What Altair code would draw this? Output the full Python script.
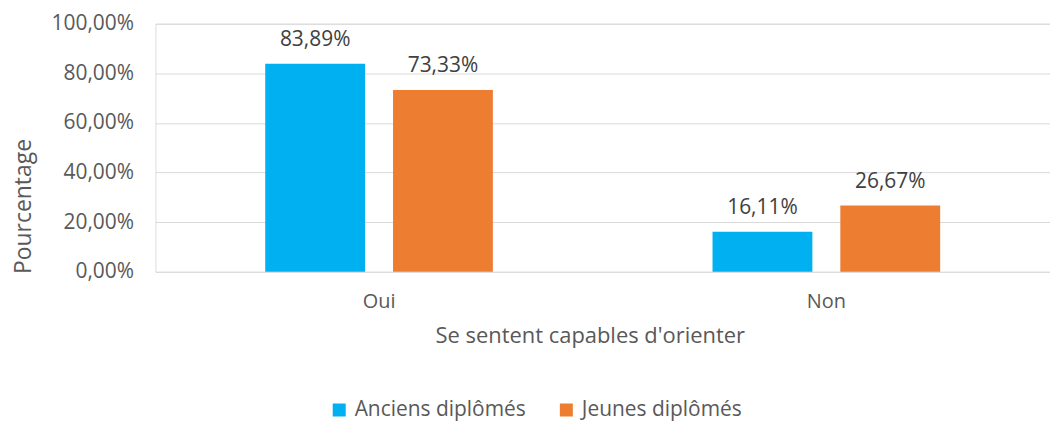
import altair as alt
import pandas as pd

categories = ["Oui", "Oui", "Non", "Non"]
series = ["Anciens diplômés", "Jeunes diplômés", "Anciens diplômés", "Jeunes diplômés"]
values = [0.8389, 0.7333, 0.1611, 0.2667]

df = pd.DataFrame({"cat": categories, "serie": series, "val": values})

FONT = "Open Sans"
fmt = "replace(format(datum.value, '.2%'), '.', ',')"

base = alt.Chart(df).encode(
    x=alt.X("cat:N", sort=["Oui", "Non"],
            scale=alt.Scale(paddingInner=0, paddingOuter=0),
            axis=alt.Axis(title="Se sentent capables d'orienter", labelAngle=0, grid=False,
                          domain=False, ticks=False, labelPadding=20,
                          labelFontSize=20, labelColor="#595959",
                          titleFontSize=22, titleColor="#595959", titleFontWeight="normal",
                          titlePadding=14, titleX=436, labelFont=FONT, titleFont=FONT)),
    xOffset=alt.XOffset("serie:N", sort=["Anciens diplômés", "Jeunes diplômés"],
                        scale=alt.Scale(paddingInner=0.21875, paddingOuter=0.859375)),
)

bars = base.mark_bar().encode(
    y=alt.Y("val:Q", scale=alt.Scale(domain=[0, 1]),
            axis=alt.Axis(title="Pourcentage", values=[0, 0.2, 0.4, 0.6, 0.8, 1.0],
                          labelExpr=fmt, domain=False, ticks=False, labelPadding=22,
                          labelFontSize=21, labelColor="#595959",
                          titleFontSize=23, titleColor="#595959", titleFontWeight="normal",
                          titlePadding=16, titleY=183, gridColor="#D9D9D9",
                          labelFont=FONT, titleFont=FONT)),
    color=alt.Color("serie:N", sort=["Anciens diplômés", "Jeunes diplômés"],
                    scale=alt.Scale(domain=["Anciens diplômés", "Jeunes diplômés"],
                                    range=["#00B0F0", "#ED7D31"]),
                    legend=alt.Legend(title=None, orient="none", direction="horizontal",
                                      legendX=174, legendY=377, symbolType="square",
                                      symbolSize=170, symbolStrokeWidth=0,
                                      labelFontSize=21, labelColor="#595959", labelLimit=400,
                                      labelFont=FONT, columnPadding=30, labelOffset=5)),
)

labels = base.mark_text(baseline="alphabetic", dy=-18, fontSize=21, color="#404040", font=FONT).encode(
    y="val:Q",
    text=alt.Text("label:N"),
).transform_calculate(label="replace(format(datum.val, '.2%'), '.', ',')")

chart = alt.layer(bars, labels).properties(
    width=898, height=249,
    autosize=alt.AutoSizeParams(type="none"),
    padding={"left": 156, "top": 23, "right": 0, "bottom": 154},
).configure_view(stroke=None).configure(font=FONT)

chart.save("out.html", embed_options={"renderer": "svg", "actions": False})
